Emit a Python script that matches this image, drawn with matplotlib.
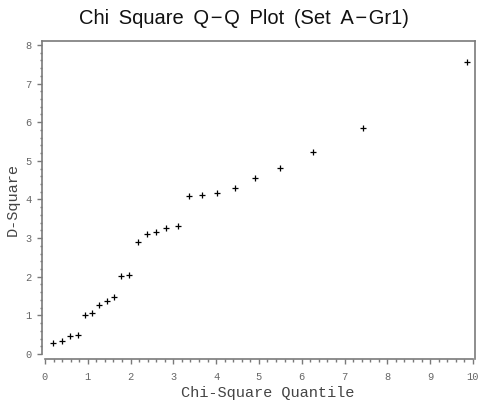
import matplotlib
matplotlib.use("Agg")
import matplotlib.pyplot as plt
from matplotlib.ticker import MultipleLocator

# chi-square quantiles vs squared Mahalanobis distances
chi_quantile = [0.18, 0.40, 0.59, 0.76, 0.93, 1.10, 1.26, 1.44, 1.61, 1.78,
                1.97, 2.17, 2.38, 2.60, 2.83, 3.10, 3.37, 3.68, 4.03, 4.44,
                4.91, 5.50, 6.27, 7.44, 9.87]
d_square = [0.28, 0.33, 0.47, 0.50, 1.01, 1.05, 1.27, 1.36, 1.47, 2.03,
            2.04, 2.89, 3.10, 3.15, 3.27, 3.32, 4.10, 4.12, 4.16, 4.29,
            4.56, 4.81, 5.23, 5.85, 7.55]

# wide word gaps and a spaced minus, like the original title
title = ("Chi \u2009Square \u2009Q\u200a\u2212\u200aQ \u2009Plot \u2009"
         "(Set \u2009A\u200a\u2212\u200aGr1)")
xlabel = "Chi-Square Quantile"
ylabel = "D-Square"

W, H = 478, 405
fig = plt.figure(figsize=(W / 100, H / 100), dpi=100)
# axes box in pixels: left 42, right 475, top 41, bottom 359
ax = fig.add_axes([42 / W, 1 - 359 / H, (475 - 42) / W, (359 - 41) / H])

ax.plot(chi_quantile, d_square, linestyle="none", marker="+", color="black",
        markersize=5, markeredgewidth=0.9)

ax.set_xlim(-0.07, 10.05)
ax.set_ylim(-0.13, 8.1)

grey = "#7a7a7a"
for s in ax.spines.values():
    s.set_color(grey)
    s.set_linewidth(1.2)
ax.spines["bottom"].set_bounds(0, 10)
ax.spines["left"].set_bounds(0, 8.1)

ax.xaxis.set_major_locator(MultipleLocator(1))
ax.xaxis.set_minor_locator(MultipleLocator(0.2))
ax.yaxis.set_major_locator(MultipleLocator(1))
ax.yaxis.set_minor_locator(MultipleLocator(0.2))
ax.tick_params(which="major", length=3.5, width=1, color=grey,
               labelsize=7.5, labelcolor="#666666")
ax.tick_params(which="minor", length=1.8, width=1, color=grey)
ax.tick_params(axis="x", pad=6)
ax.tick_params(axis="y", pad=4)
for lab in ax.get_xticklabels() + ax.get_yticklabels():
    lab.set_family("Liberation Mono")

ax.set_xlabel(xlabel, family="Liberation Mono", fontsize=11, color="#444444")
ax.set_ylabel(ylabel, family="Liberation Mono", fontsize=11, color="#444444")
ax.xaxis.set_label_coords((268 - 42) / (475 - 42), -(393 - 359) / (359 - 41))
ax.yaxis.set_label_coords(-(42 - 13) / (475 - 42), (359 - 200) / (359 - 41))
ax.xaxis.label.set_va("center")
ax.yaxis.label.set_va("center")

fig.text(244 / W, 1 - 19 / H, title, ha="center", va="center",
         family="Liberation Sans", fontsize=14.5, color="#111111")

fig.savefig("out.png", dpi=100)
